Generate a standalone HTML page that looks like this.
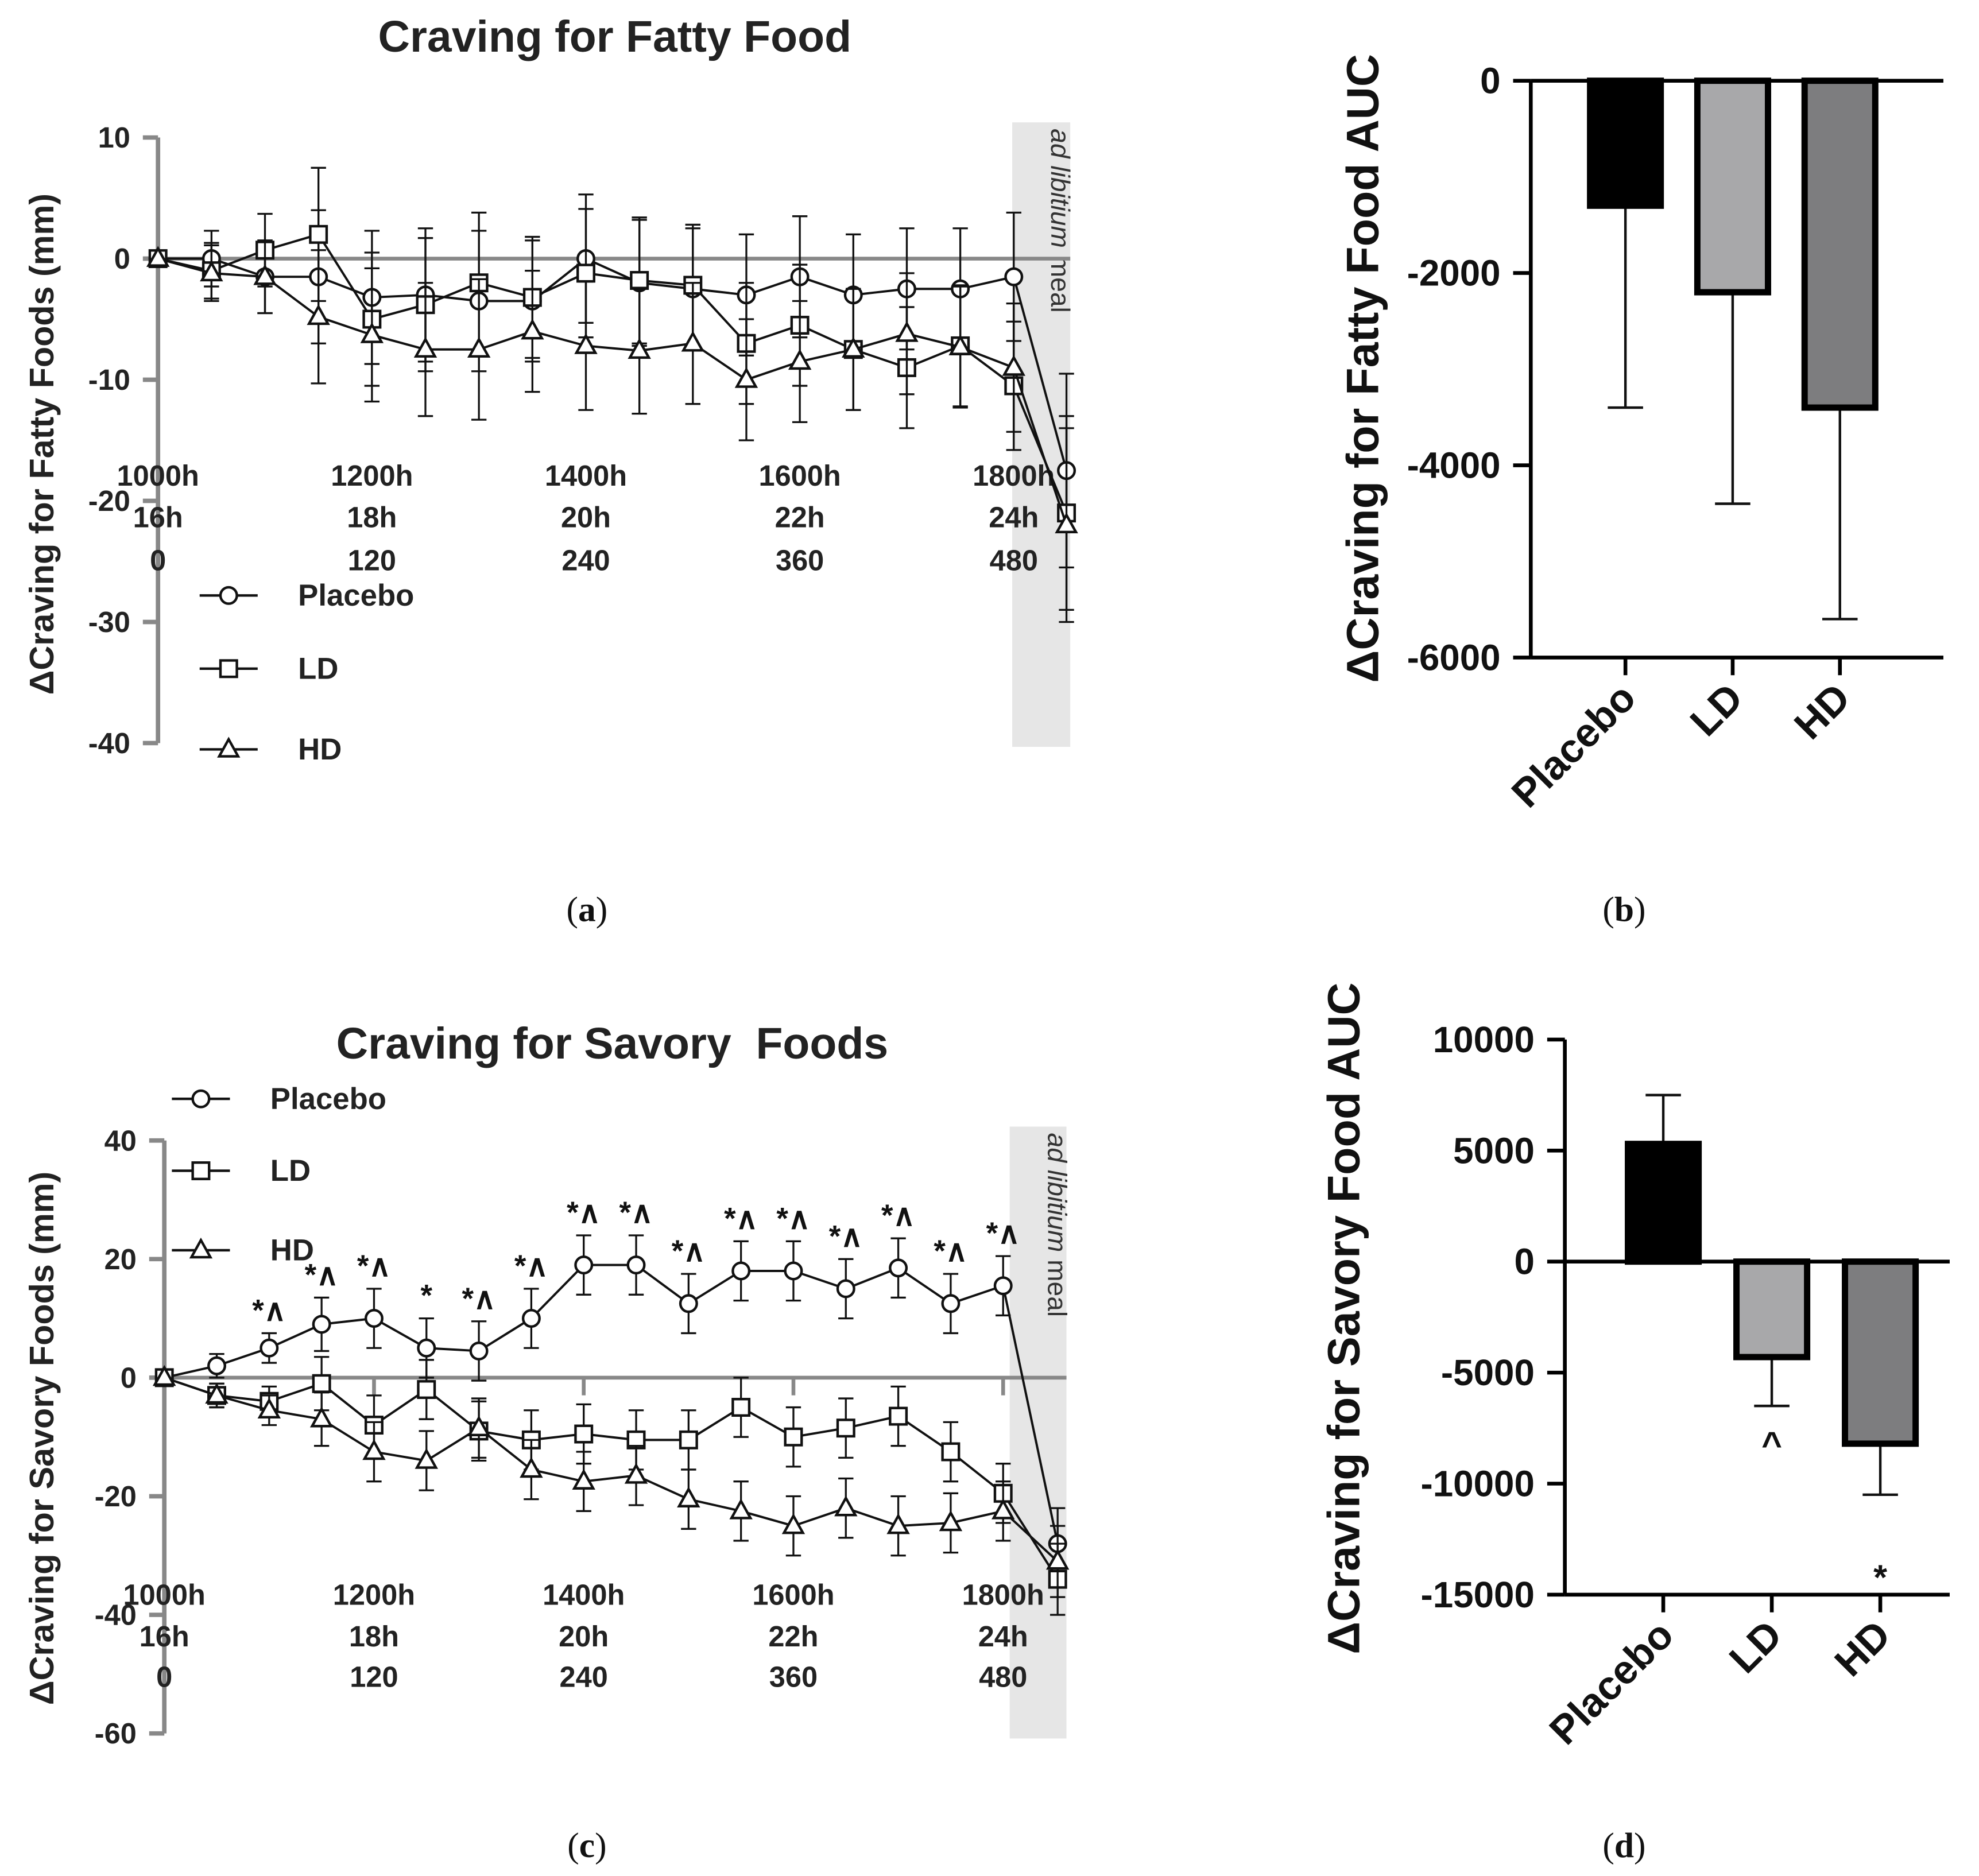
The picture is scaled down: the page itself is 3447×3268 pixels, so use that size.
<!DOCTYPE html>
<html><head><meta charset="utf-8"><style>
html,body{margin:0;padding:0;background:#fff}
svg{display:block;font-family:"Liberation Sans",Arial,sans-serif}
</style></head><body>
<svg id="fig" width="3447" height="3268" viewBox="0 0 1568 1487" xmlns="http://www.w3.org/2000/svg">
<rect width="1568" height="1487" fill="#fff"/>
<text x="487" y="41" text-anchor="middle" font-size="35" font-weight="bold" fill="#222">Craving for Fatty Food</text>
<text x="485" y="839" text-anchor="middle" font-size="35" font-weight="bold" fill="#222" style="white-space:pre">Craving for Savory  Foods</text>
<text transform="translate(42,352) rotate(-90)" text-anchor="middle" font-size="27" font-weight="bold" fill="#222">ΔCraving for Fatty Foods (mm)</text>
<text transform="translate(42,1140) rotate(-90)" text-anchor="middle" font-size="27" font-weight="bold" fill="#222">ΔCraving for Savory Foods (mm)</text>
<text transform="translate(1092,292) rotate(-90)" text-anchor="middle" font-size="36" font-weight="bold" fill="#111">ΔCraving for Fatty Food AUC</text>
<text transform="translate(1077,1045) rotate(-90)" text-anchor="middle" font-size="36" font-weight="bold" fill="#111">ΔCraving for Savory Food AUC</text>
<g font-family="Liberation Serif,serif" font-size="28" text-anchor="middle" fill="#111">
<text x="465" y="730">(<tspan font-weight="bold">a</tspan>)</text>
<text x="1287" y="730">(<tspan font-weight="bold">b</tspan>)</text>
<text x="465" y="1472">(<tspan font-weight="bold">c</tspan>)</text>
<text x="1287" y="1472">(<tspan font-weight="bold">d</tspan>)</text>
</g>
<g id="plots"></g>
</svg>
<script>
// ---- data ----
const timeMin = [0,30,60,90,120,150,180,210,240,270,300,330,360,390,420,450,480,510];
const groups = ["Placebo","LD","HD"];
const fattyPlacebo = [0,0,-1.5,-1.5,-3.2,-3,-3.5,-3.5,0,-2,-2.5,-3,-1.5,-3,-2.5,-2.5,-1.5,-17.5];
const fattyLD = [0,-1,0.7,2,-5,-3.8,-2,-3.2,-1.2,-1.8,-2.2,-7,-5.5,-7.5,-9,-7.2,-10.5,-21];
const fattyHD = [0,-1.2,-1.5,-4.8,-6.3,-7.5,-7.5,-6,-7.2,-7.6,-7,-10,-8.5,-7.5,-6.2,-7.3,-9,-22];
const fattyErr = [0,2.3,3,5.5,5.5,5.5,5.8,5,5.3,5.2,5,5,5,5,5,5,5.3,8];
const savPlacebo = [0,2,5,9,10,5,4.5,10,19,19,12.5,18,18,15,18.5,12.5,15.5,-28];
const savLD = [0,-3,-4,-1,-8,-2,-9,-10.5,-9.5,-10.5,-10.5,-5,-10,-8.5,-6.5,-12.5,-19.5,-34];
const savHD = [0,-3,-5.5,-7,-12.5,-14,-8.5,-15.5,-17.5,-16.5,-20.5,-22.5,-25,-22,-25,-24.5,-22.5,-31];
const savErr = [0,2,2.5,4.5,5,5,5,5,5,5,5,5,5,5,5,5,5,6];
const savAnnot = ["","","*^","*^","*^","*","*^","*^","*^","*^","*^","*^","*^","*^","*^","*^","*^",""];
const timeLabels1 = ["1000h","1200h","1400h","1600h","1800h"];
const timeLabels2 = ["16h","18h","20h","22h","24h"];
const timeLabels3 = ["0","120","240","360","480"];
const timeLabelMin = [0,120,240,360,480];
const fattyTicks = [10,0,-10,-20,-30,-40];
const savTicks = [40,20,0,-20,-40,-60];
const aucFatty = [-1300,-2200,-3400];
const aucFattyErr = [-3400,-4400,-5600];
const aucFattyTicks = [0,-2000,-4000,-6000];
const aucSav = [5300,-4300,-8200];
const aucSavErr = [7500,-6500,-10500];
const aucSavTicks = [10000,5000,0,-5000,-10000,-15000];
const aucSavAnnot = ["","^","*"];
const barFills = ["#000","#a8a8aa","#7d7d7f"];

const NS="http://www.w3.org/2000/svg";
const root=document.getElementById('plots');
function mk(tag,a,parent){const e=document.createElementNS(NS,tag);for(const k in a)e.setAttribute(k,a[k]);(parent||root).appendChild(e);return e;}

function marker(g,kind,x,y){
  let e;
  if(kind===0) e=mk('circle',{cx:x,cy:y,r:6.5,fill:'#fff',stroke:'#111','stroke-width':2},g);
  else if(kind===1) e=mk('rect',{x:x-6.5,y:y-6.5,width:13,height:13,fill:'#fff',stroke:'#111','stroke-width':2},g);
  else e=mk('polygon',{points:`${x},${y-8} ${x-7.5},${y+5.5} ${x+7.5},${y+5.5}`,fill:'#fff',stroke:'#111','stroke-width':2},g);
  return e;
}

function linePanel(cfg){
  const g=mk('g',{});
  
  
  const X=t=> t<=480 ? cfg.x0+t*cfg.px : cfg.xMeal;
  const Y=v=> cfg.y0 - v*cfg.py;
  const sh=mk('rect',{x:cfg.shade[0],y:cfg.shade[1],width:cfg.shade[2],height:cfg.shade[3],fill:'#e6e6e6'},g);
  
  
  const st=mk('text',{transform:`translate(${cfg.shade[0]+cfg.shade[2]/2+8},${cfg.shade[1]+5}) rotate(90)`,'font-size':21,fill:'#333'},g);
  st.innerHTML='<tspan font-style="italic">ad libitium</tspan> meal';
  
  
  const top=Y(cfg.ticks[0]), bot=Y(cfg.ticks[cfg.ticks.length-1]);
  const ax=mk('line',{x1:cfg.x0,y1:top,x2:cfg.x0,y2:bot,stroke:'#888','stroke-width':3.5},g);
  
  
  cfg.ticks.forEach(v=>{
    mk('line',{x1:cfg.x0-12,y1:Y(v),x2:cfg.x0,y2:Y(v),stroke:'#888','stroke-width':3.5},g);
    const t=mk('text',{x:cfg.x0-22,y:Y(v)+8,'text-anchor':'end','font-size':23,'font-weight':'bold',fill:'#222'},g);
    t.textContent=v;
    
    
  });
  const zl=mk('line',{x1:cfg.x0,y1:Y(0),x2:cfg.shade[0]+cfg.shade[2],y2:Y(0),stroke:'#888','stroke-width':3},g);
  
  
  timeLabelMin.forEach((m,i)=>{
    if(cfg.xticks && i>0) mk('line',{x1:X(m),y1:Y(0),x2:X(m),y2:Y(0)+14,stroke:'#888','stroke-width':3},g);
    [timeLabels1,timeLabels2,timeLabels3].forEach((arr,r)=>{
      const t=mk('text',{x:X(m),y:cfg.rowY[r],'text-anchor':'middle','font-size':23,'font-weight':'bold',fill:'#222'},g);
      t.textContent=arr[i];
      
      
    });
  });
  cfg.series.forEach((s,k)=>{
    const sg=mk('g',{},g);
    
    
    s.forEach((v,i)=>{
      const x=X(timeMin[i]),e=cfg.err[i];
      if(e>0){
        mk('line',{x1:x,y1:Y(v+e),x2:x,y2:Y(v-e),stroke:'#111','stroke-width':1.5},sg);
        mk('line',{x1:x-6,y1:Y(v+e),x2:x+6,y2:Y(v+e),stroke:'#111','stroke-width':1.5},sg);
        mk('line',{x1:x-6,y1:Y(v-e),x2:x+6,y2:Y(v-e),stroke:'#111','stroke-width':1.5},sg);
      }
    });
    const pts=s.map((v,i)=>X(timeMin[i])+','+Y(v)).join(' ');
    const pl=mk('polyline',{points:pts,fill:'none',stroke:'#111','stroke-width':1.8},sg);
    
    
    s.forEach((v,i)=>{
      const m=marker(sg,k,X(timeMin[i]),Y(v));
      
      
    });
  });
  if(cfg.annot){
    cfg.annot.forEach((a,i)=>{
      if(!a) return;
      const v=cfg.series[0][i]+cfg.err[i];
      const t=mk('text',{x:X(timeMin[i]),y:Y(v)-10,'text-anchor':'middle','font-size':24,'font-weight':'bold',fill:'#111'},g);
      t.textContent=a.replace('^','\u2227');
      
      
    });
  }
  cfg.legendY.forEach((ly,k)=>{
    const lg=mk('g',{},g);
    
    
    mk('line',{x1:cfg.legendX,y1:ly,x2:cfg.legendX+46,y2:ly,stroke:'#111','stroke-width':2},lg);
    marker(lg,k,cfg.legendX+23,ly);
    const t=mk('text',{x:cfg.legendX+78,y:ly+8,'font-size':24,'font-weight':'bold',fill:'#222'},lg);
    t.textContent=groups[k];
  });
}

linePanel({name:'chart-fatty-time',x0:125,px:1.413,xMeal:845,y0:205,py:9.6,ticks:fattyTicks,
  shade:[802,97,46,495],rowY:[385,418,452],series:[fattyPlacebo,fattyLD,fattyHD],err:fattyErr,
  legendX:158,legendY:[472,530,594]});
linePanel({name:'chart-savory-time',x0:130,px:1.385,xMeal:838,y0:1092,py:4.7,ticks:savTicks,
  shade:[800,893,45,485],rowY:[1272,1305,1337],series:[savPlacebo,savLD,savHD],err:savErr,
  annot:savAnnot,xticks:true,legendX:136,legendY:[871,928,991]});

function barPanel(cfg){
  const g=mk('g',{});
  
  
  const Y=v=>cfg.y0 - v*cfg.py;
  const X=i=>cfg.cx0+i*cfg.step;
  const top=Y(cfg.ticks[0]), bot=Y(cfg.ticks[cfg.ticks.length-1]);
  cfg.vals.forEach((v,i)=>{
    const x=X(i),w=cfg.bw;
    const e=cfg.err[i];
    mk('line',{x1:x,y1:Y(v),x2:x,y2:Y(e),stroke:'#111','stroke-width':2},g);
    mk('line',{x1:x-14,y1:Y(e),x2:x+14,y2:Y(e),stroke:'#111','stroke-width':2},g);
    const r=mk('rect',{x:x-w/2,y:Math.min(Y(v),Y(0)),width:w,height:Math.abs(Y(v)-Y(0)),fill:barFills[i],stroke:'#000','stroke-width':5},g);
    
    
    if(cfg.annot && cfg.annot[i]){
      const t=mk('text',{x:x,y:Y(e)+(i===1?40:75),'text-anchor':'middle','font-size':28,'font-weight':'bold',fill:'#111'},g);
      t.textContent=cfg.annot[i];
      
      
    }
    mk('line',{x1:x,y1:bot,x2:x,y2:bot+14,stroke:'#000','stroke-width':3},g);
    const lt=mk('text',{transform:`translate(${x+10},${bot+34}) rotate(-45)`,'text-anchor':'end','font-size':32,'font-weight':'bold',fill:'#111'},g);
    lt.textContent=groups[i];
    
    
  });
  const ax=mk('line',{x1:cfg.x0,y1:top,x2:cfg.x0,y2:bot,stroke:'#000','stroke-width':3},g);
  
  
  const xa=mk('line',{x1:cfg.x0,y1:bot,x2:cfg.xEnd,y2:bot,stroke:'#000','stroke-width':3},g);
  
  
  const zl=mk('line',{x1:cfg.x0,y1:Y(0),x2:cfg.xEnd,y2:Y(0),stroke:'#000','stroke-width':3},g);
  
  
  cfg.ticks.forEach(v=>{
    mk('line',{x1:cfg.x0-14,y1:Y(v),x2:cfg.x0,y2:Y(v),stroke:'#000','stroke-width':3},g);
    const t=mk('text',{x:cfg.x0-24,y:Y(v)+10,'text-anchor':'end','font-size':29,'font-weight':'bold',fill:'#111'},g);
    t.textContent=v;
    
    
  });
}
barPanel({name:'chart-fatty-auc',x0:1213,xEnd:1540,y0:64,py:0.0762,ticks:aucFattyTicks,vals:aucFatty,err:aucFattyErr,cx0:1288,step:85,bw:56});
barPanel({name:'chart-savory-auc',x0:1240,xEnd:1545,y0:1000,py:0.0176,ticks:aucSavTicks,vals:aucSav,err:aucSavErr,cx0:1318,step:86,bw:56,annot:aucSavAnnot});
</script>
</body></html>
